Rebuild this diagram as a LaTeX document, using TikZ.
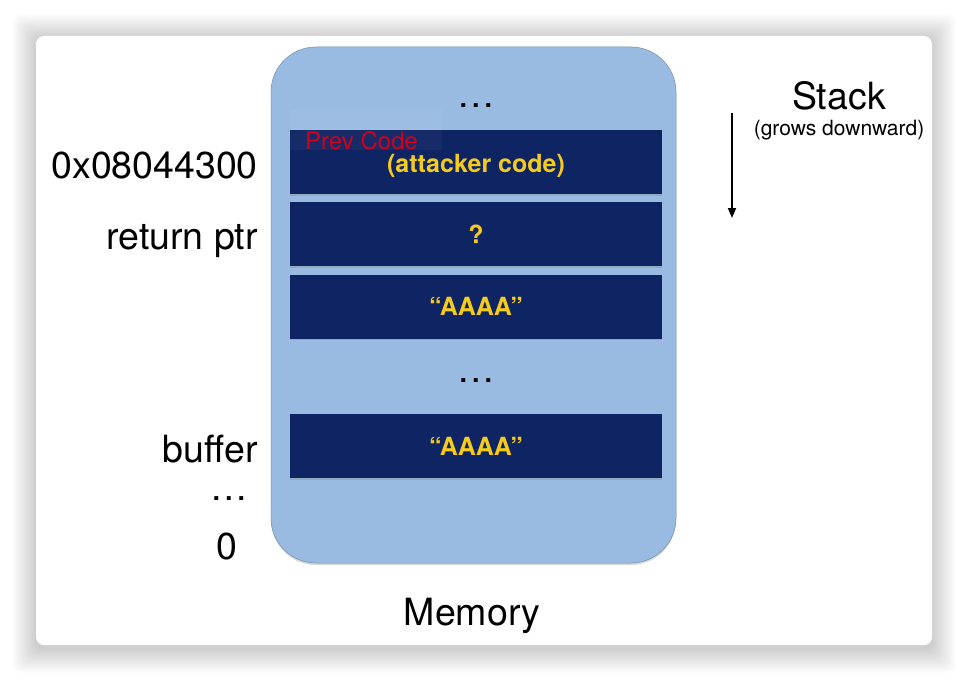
\documentclass[tikz,border=0pt]{standalone}
\usepackage{fontspec}
\setmainfont{TeX Gyre Heros}
\usepackage{tikz}
\usetikzlibrary{arrows.meta, positioning, shadows}
\definecolor{memblue}{HTML}{9ABBE1}
\definecolor{cellnavy}{HTML}{0F2463}
\definecolor{cellyellow}{HTML}{F5CB1D}
\definecolor{prevred}{HTML}{D0021B}

\begin{document}
\begin{tikzpicture}[
    x=1pt, y=-1pt,
    biglabel/.style={font=\fontsize{37.5}{40}\selectfont, inner sep=0pt},
    smalllabel/.style={font=\fontsize{21}{24}\selectfont, inner sep=0pt},
    memory/.style={fill=memblue, draw=memblue!75!black, line width=0.5pt, rounded corners=45pt, minimum width=405pt, minimum height=516pt, drop shadow={opacity=0.3, shadow xshift=0pt, shadow yshift=-2pt}},
    cell/.style={fill=cellnavy, minimum width=372pt, minimum height=64pt, inner sep=0pt, drop shadow={opacity=0.3, shadow xshift=0pt, shadow yshift=-1.5pt}},
    celltext/.style={text=cellyellow, font=\bfseries\fontsize{25}{28}\selectfont, inner sep=0pt},
    arrow/.style={-{Triangle[width=8pt,length=10pt]}, line width=1.8pt}
]
    \useasboundingbox (0,0) rectangle (968,682);

    % slide with soft shadow
    \foreach \d in {1,...,24}
        \fill[black, opacity=0.0075, rounded corners=8pt] (36-\d,38-\d) rectangle (932+\d,649+\d);
    \fill[white, rounded corners=8pt] (36,36) rectangle (932,645);

    % Memory block
    \node[memory] (mem) at (473.5,305) {};
    \node[biglabel] (memlabel) at (472,616) {Memory};

    % Cells
    \node[cell] (code) at (476,162) {};
    \node[cell, below=8pt of code] (ret) {};
    \node[cell, below=8pt of ret] (fill) {};
    \node[cell] (buf) at (476,446) {};

    \node[fill=white, fill opacity=0.035, minimum width=152pt, minimum height=40pt, inner sep=0pt] (prevbg) at (366,130) {};
    \node[text=prevred, font=\fontsize{24}{26}\selectfont, inner sep=0pt, anchor=west] (prev) at (305,141) {Prev Code};
    \node[celltext] (codetext) at ([yshift=-4pt]code.center) {(attacker code)};
    \node[celltext] (rettext) at (ret) {?};
    \node[celltext] (filltext) at (fill) {“AAAA”};
    \node[celltext] (buftext) at (buf) {“AAAA”};

    \node[biglabel] (topdots) at (476,106) {…};
    \node[biglabel] (middots) at (476,381) {…};

    % Address labels
    \node[biglabel, anchor=base east] (addr) at (258,178) {0x08044300};
    \node[biglabel, anchor=base east] (retlabel) at (258,249) {return ptr};
    \node[biglabel, anchor=base east] (buflabel) at (258,462) {buffer};
    \node[biglabel] (leftdots) at (229,499) {…};
    \node[biglabel, anchor=base] (zero) at (227,559) {0};

    % Stack direction
    \node[biglabel] (stack) at (839,96) {Stack};
    \node[smalllabel] (grows) at (839,130) {(grows downward)};
    \coordinate (arrtop) at (732,113);
    \coordinate (arrbot) at (732,218);
    \draw[arrow] (arrtop) -- (arrbot);
\end{tikzpicture}
\end{document}
